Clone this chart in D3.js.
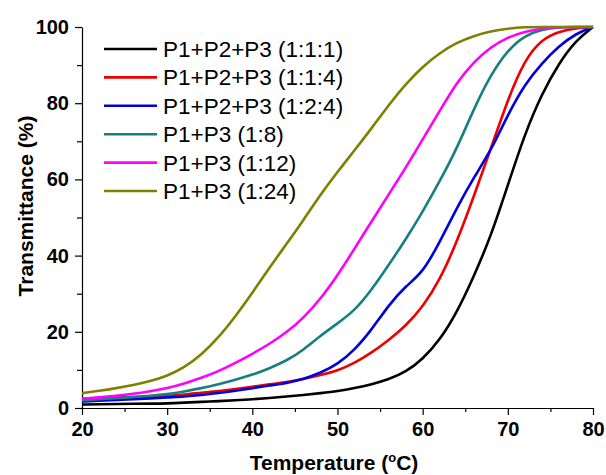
<!DOCTYPE html>
<html>
<head>
<meta charset="utf-8">
<script src="https://cdn.jsdelivr.net/npm/d3@7"></script>
<style>
  body { margin: 0; background: #fff; }
  svg { display: block; font-family: Arial, "Liberation Sans", sans-serif; }
</style>
</head>
<body>
<svg id="chart" width="606" height="475"></svg>
<script>
// temperature grid (°C), every 2 degrees
const temps = d3.range(20, 81, 2);

const seriesNames = [
  "P1+P2+P3 (1:1:1)",
  "P1+P2+P3 (1:1:4)",
  "P1+P2+P3 (1:2:4)",
  "P1+P3 (1:8)",
  "P1+P3 (1:12)",
  "P1+P3 (1:24)",
];

const black111 = [0.9, 1.0, 1.05, 1.1, 1.15, 1.2, 1.4, 1.6, 1.8, 2.0, 2.3, 2.6, 3.0, 3.4, 3.9, 4.4,
  5.2, 6.2, 7.5, 9.4, 12.8, 17.8, 25, 34.5, 45, 58.5, 72, 82.5, 90.5, 96.5, 100];
const red114 = [2.4, 2.6, 2.8, 2.9, 3.0, 3.2, 3.5, 4.0, 4.4, 5.0, 5.6, 6.2, 6.8, 7.6, 8.6, 9.8,
  11.8, 14.5, 17.8, 21.5, 26.5, 33.5, 43.5, 55.5, 68, 81, 91.5, 96.8, 98.8, 99.7, 100];
const blue124 = [1.7, 1.9, 2.1, 2.3, 2.5, 2.8, 3.0, 3.4, 3.9, 4.5, 5.2, 5.9, 6.5, 7.6, 9.2, 11.5,
  15.2, 20.5, 27, 32, 35.5, 43.5, 52.5, 60.5, 67.5, 77, 85, 90.5, 95, 98.3, 100];
const teal18 = [2.0, 2.3, 2.6, 2.9, 3.2, 3.6, 4.3, 5.2, 6.2, 7.4, 8.7, 10.4, 12.4, 15.2, 19, 22.2,
  25.5, 31, 37.5, 44.2, 51.5, 59.5, 68, 78.5, 87.5, 94, 97.8, 99.4, 100, 100, 100];
const magenta112 = [2.4, 2.8, 3.2, 3.7, 4.4, 5.2, 6.4, 7.9, 9.6, 11.8, 14.2, 16.8, 19.8, 23.6, 28.6, 34.8,
  41.8, 49, 56, 63, 70.5, 78, 85.5, 90.8, 94.8, 97.3, 98.8, 99.6, 100, 100, 100];
const olive124 = [3.9, 4.5, 5.2, 6.0, 7.0, 8.4, 10.6, 13.9, 18.4, 24, 30.2, 36.8, 43, 49.3, 56, 62,
  67.6, 73.4, 79.5, 85, 89.6, 93.2, 95.9, 97.7, 98.9, 99.6, 100, 100, 100, 100, 100];

const seriesValues = [black111, red114, blue124, teal18, magenta112, olive124];
const seriesColors = ["#000000", "#ee0000", "#0000dd", "#168080", "#ff00ff", "#808000"];

const xTicks = [20, 30, 40, 50, 60, 70, 80];
const yTicks = [0, 20, 40, 60, 80, 100];

const margin = { left: 82, right: 13, top: 27, bottom: 67 };
const width = 606, height = 475;

const svg = d3.select("#chart");

const x = d3.scaleLinear().domain([20, 80]).range([margin.left, width - margin.right]);
const y = d3.scaleLinear().domain([0, 100]).range([height - margin.bottom, margin.top]);

// minor ticks first
svg.append("g")
  .attr("transform", `translate(0,${y(0)})`)
  .call(d3.axisBottom(x).tickValues(d3.range(25, 80, 10)).tickSize(4).tickFormat(""))
  .call((g) => g.select(".domain").remove());
svg.append("g")
  .attr("transform", `translate(${x(20)},0)`)
  .call(d3.axisLeft(y).tickValues(d3.range(10, 100, 20)).tickSize(5).tickFormat(""))
  .call((g) => g.select(".domain").remove());

const xAxis = svg.append("g")
  .attr("transform", `translate(0,${y(0)})`)
  .call(d3.axisBottom(x).tickValues(xTicks).tickSize(7).tickSizeOuter(0).tickPadding(7));
xAxis.selectAll("text")
  .attr("font-size", 20).attr("font-weight", "bold").attr("fill", "#000");

const yAxis = svg.append("g")
  .attr("transform", `translate(${x(20)},0)`)
  .call(d3.axisLeft(y).tickValues(yTicks).tickSize(7).tickSizeOuter(0).tickPadding(6));
yAxis.selectAll("text")
  .attr("font-size", 20).attr("font-weight", "bold").attr("fill", "#000");

svg.selectAll(".domain, .tick line").attr("stroke", "#000").attr("stroke-width", 1.2);

// curves
const line = d3.line()
  .x((d) => x(d[0]))
  .y((d) => y(d[1]))
  .curve(d3.curveBasis);

seriesValues.forEach((vals, i) => {
  svg.append("path")
    .datum(temps.map((t, k) => [t, vals[k]]))
    .attr("fill", "none")
    .attr("stroke", seriesColors[i])
    .attr("stroke-width", 2.6)
    .attr("d", line);
});

// legend
const legend = svg.append("g");
seriesNames.forEach((name, i) => {
  const ly = 49 + i * 28.4;
  legend.append("line")
    .attr("x1", 104).attr("x2", 157)
    .attr("y1", ly).attr("y2", ly)
    .attr("stroke", seriesColors[i]).attr("stroke-width", 2.6);
  legend.append("text")
    .attr("x", 163).attr("y", ly + 8)
    .attr("font-size", 22.5)
    .attr("fill", "#000")
    .text(name);
});

// axis titles
const xt = svg.append("text")
  .attr("x", 334).attr("y", 470)
  .attr("text-anchor", "middle")
  .attr("font-size", 21).attr("font-weight", "bold");
xt.append("tspan").text("Temperature (");
xt.append("tspan").attr("font-size", 13).attr("dy", -8).text("o");
xt.append("tspan").attr("dy", 8).text("C)");

svg.append("text")
  .attr("transform", "translate(33,206) rotate(-90)")
  .attr("text-anchor", "middle")
  .attr("font-size", 21).attr("font-weight", "bold")
  .text("Transmittance (%)");
</script>
</body>
</html>
